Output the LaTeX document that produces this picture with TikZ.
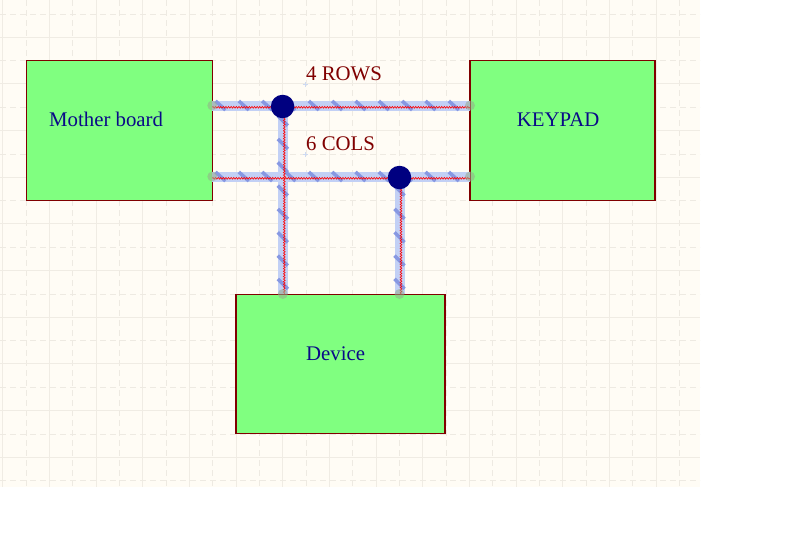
\documentclass[tikz,border=0pt]{standalone}
\usepackage{fontspec}
\setmainfont{Liberation Serif}
\usetikzlibrary{decorations.pathmorphing}
\definecolor{bgcream}{RGB}{255,252,245}
\definecolor{gridsol}{RGB}{240,236,228}
\definecolor{griddash}{RGB}{238,234,226}
\definecolor{boxgreen}{RGB}{128,255,128}
\definecolor{boxred}{RGB}{128,0,0}
\definecolor{navytxt}{RGB}{10,10,135}
\definecolor{labred}{RGB}{128,0,0}
\definecolor{busband}{RGB}{194,208,245}
\definecolor{bushatch}{RGB}{135,152,226}
\definecolor{buswire}{RGB}{255,0,0}
\definecolor{dotnavy}{RGB}{0,0,128}
\definecolor{pinend}{RGB}{150,170,140}
\definecolor{markblue}{RGB}{205,218,242}
\tikzset{
  gridsolidline/.style={draw=gridsol, line width=1pt},
  griddashline/.style={draw=griddash, line width=1pt, dash pattern=on 6pt off 4pt},
  blockbox/.style={draw=boxred, fill=boxgreen, line width=1.2pt, rectangle, inner sep=0pt},
  blocktext/.style={text=navytxt, font=\fontsize{20.8}{24}\selectfont, inner sep=0pt, anchor=base west},
  labeltext/.style={text=labred, font=\fontsize{20.8}{24}\selectfont, inner sep=0pt, anchor=base west},
  bandline/.style={draw=busband, line width=10pt},
  hatchline/.style={draw=bushatch, line width=3.5pt},
  wireline/.style={draw=buswire, line width=0.6pt, decorate, decoration={zigzag, amplitude=0.9pt, segment length=2.6pt}},
  pindot/.style={fill=pinend, fill opacity=0.55, draw=none},
  junction/.style={fill=dotnavy, draw=none, circle, minimum size=23.5pt, inner sep=0pt},
  markcross/.style={draw=markblue, line width=0.8pt}
}
\begin{document}
\begin{tikzpicture}[x=1pt,y=-1pt]
\useasboundingbox (0,0) rectangle (789,555);
\fill[white] (0,0) rectangle (789,555);
% background and grid
\fill[bgcream] (0,0) rectangle (700,487);
\foreach \i in {0,...,14} {
  \draw[griddashline] ({26+46.667*\i},0) -- ({26+46.667*\i},487);
  \draw[gridsolidline] ({2.7+46.667*\i},0) -- ({2.7+46.667*\i},487);
}
\foreach \i in {0,...,10} {
  \draw[griddashline] (0,{14+46.667*\i}) -- (700,{14+46.667*\i});
}
\foreach \i in {0,...,9} {
  \draw[gridsolidline] (0,{37.3+46.667*\i}) -- (700,{37.3+46.667*\i});
}
% blocks
\node[blockbox, minimum width=186pt, minimum height=140pt] (mb) at (119.2,130.1) {};
\node[blockbox, minimum width=185pt, minimum height=140pt] (kp) at (562.5,130.1) {};
\node[blockbox, minimum width=209pt, minimum height=139pt] (dev) at (340.5,363.6) {};
\node[blocktext] (mbt) at (49,126) {Mother board};
\node[blocktext] (kpt) at (516.7,126.5) {KEYPAD};
\node[blocktext] (devt) at (306,360.6) {Device};
\node[labeltext] (rows) at (306,80) {4 ROWS};
\node[labeltext] (cols) at (306,150) {6 COLS};
% bus coordinates
\coordinate (mb1) at (212.3,105.5);
\coordinate (kp1) at (470,105.5);
\coordinate (j1) at (282.8,105.5);
\coordinate (mb2) at (212.3,176.5);
\coordinate (kp2) at (470,176.5);
\coordinate (j2) at (399.5,176.5);
\coordinate (d1) at (282.8,294);
\coordinate (d2) at (399.5,294);
% bus bands
\draw[bandline] (mb1) -- (kp1);
\draw[bandline] (mb2) -- (kp2);
\draw[bandline] (j1) -- (d1);
\draw[bandline] (j2) -- (d2);
% hatches
\foreach \k in {0,...,10} {
  \draw[hatchline] ({215.5+23.333*\k},101) -- ++(10,9);
  \draw[hatchline] ({215.5+23.333*\k},172) -- ++(10,9);
}
\foreach \k in {-1,...,6} {
  \draw[hatchline] (277.8,{139+23.333*\k}) -- ++(10,10);
}
\foreach \k in {0,...,4} {
  \draw[hatchline] (394.5,{185.6+23.333*\k}) -- ++(10,10);
}
% red wires
\draw[wireline] ([yshift=-1.8pt]mb1) -- ([yshift=-1.8pt]kp1);
\draw[wireline] ([yshift=-1.8pt]mb2) -- ([yshift=-1.8pt]kp2);
\draw[wireline] ([xshift=1.5pt]j1) -- ([xshift=1.5pt]d1);
\draw[wireline] ([xshift=1.5pt]j2) -- ([xshift=1.5pt]d2);
% pin ends
\foreach \p in {mb1,kp1,mb2,kp2,d1,d2} {
  \fill[pindot] (\p) circle (5pt);
}
% junction dots
\node[junction] (jd1) at (282.6,106.5) {};
\node[junction] (jd2) at (399.5,177.5) {};
% faint label marks
\coordinate (m1) at (305,84);
\coordinate (m2) at (305,154);
\foreach \m in {m1,m2} {
  \draw[markcross] ([xshift=-2.5pt]\m) -- ([xshift=2.5pt]\m);
  \draw[markcross] ([yshift=-2.5pt]\m) -- ([yshift=2.5pt]\m);
}
\end{tikzpicture}
\end{document}
